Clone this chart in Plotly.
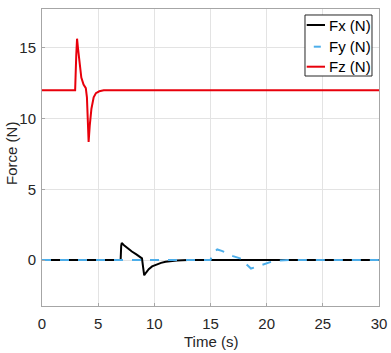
import plotly.graph_objects as go

# Fx (N)
fx_t = [0, 7.0, 7.05, 7.1, 7.3, 7.6, 8.0, 8.4, 8.75, 8.9, 9.0, 9.1, 9.25, 9.5, 9.8, 10.2, 10.6, 11.0, 11.5, 12.0, 13.0, 30]
fx_v = [0, 0, 1.0, 1.2, 1.05, 0.85, 0.6, 0.4, 0.22, 0.12, -0.5, -1.08, -0.9, -0.65, -0.45, -0.3, -0.2, -0.12, -0.07, -0.04, 0, 0]

# Fy (N)
fy_t = [0, 15.0, 15.2, 15.6, 16.0, 16.5, 17.0, 17.5, 18.0, 18.2, 18.6, 19.0, 19.5, 20.0, 20.5, 21.0, 22.0, 30]
fy_v = [0, 0, 0.5, 0.75, 0.65, 0.45, 0.28, 0.15, 0.03, -0.3, -0.6, -0.5, -0.35, -0.22, -0.1, -0.04, 0, 0]

# Fz (N)
fz_t = [0, 2.95, 3.05, 3.12, 3.2, 3.35, 3.5, 3.7, 3.9, 4.0, 4.1, 4.15, 4.25, 4.4, 4.6, 4.8, 5.1, 5.5, 30]
fz_v = [12, 12, 14.5, 15.65, 15.0, 13.7, 12.9, 12.4, 12.15, 11.5, 8.6, 8.35, 9.5, 10.7, 11.5, 11.8, 11.93, 12, 12]

series_names = ["Fx (N)", "Fy (N)", "Fz (N)"]
x_ticks = [0, 5, 10, 15, 20, 25, 30]
y_ticks = [0, 5, 10, 15]
x_title = "Time (s)"
y_title = "Force (N)"

FONT = "Liberation Sans, Arial, sans-serif"
TXT = "#262626"
COLORS = ["black", "#4DAEEA", "#E8000B"]

fig = go.Figure()
fig.add_trace(go.Scatter(x=fx_t, y=fx_v, mode="lines", name=series_names[0],
                         line=dict(color=COLORS[0], width=2)))
fig.add_trace(go.Scatter(x=fy_t, y=fy_v, mode="lines", name=series_names[1],
                         line=dict(color=COLORS[1], width=2, dash="dash")))
fig.add_trace(go.Scatter(x=fz_t, y=fz_v, mode="lines", name=series_names[2],
                         line=dict(color=COLORS[2], width=2)))

axis_common = dict(
    showline=True, mirror=True, linecolor="#A6A6A6", linewidth=1,
    showgrid=True, gridcolor="#E3E3E3", gridwidth=1, zeroline=False,
    ticks="inside", ticklen=3, tickcolor="#A6A6A6", automargin=False,
    tickfont=dict(family=FONT, size=15, color=TXT),
)

fig.update_xaxes(range=[0, 30], tickvals=x_ticks, ticklabelstandoff=4, **axis_common)
fig.update_yaxes(range=[-3.25, 17.75], tickvals=y_ticks, ticklabelstandoff=2, **axis_common)

fig.add_annotation(text=x_title, xref="paper", yref="paper", x=0.5, y=-0.121,
                   xanchor="center", yanchor="middle", showarrow=False,
                   font=dict(family=FONT, size=15, color=TXT))
fig.add_annotation(text=y_title, xref="paper", yref="paper", x=-0.089, y=0.512,
                   xanchor="center", yanchor="middle", showarrow=False, textangle=-90,
                   font=dict(family=FONT, size=15, color=TXT))

# Legend box drawn in MATLAB style (short line samples)
fig.add_shape(type="rect", xref="paper", yref="paper", x0=0.7804, x1=0.9792, y0=0.7744, y1=0.9798,
              fillcolor="white", line=dict(color="#262626", width=1), layer="above")
row_y = [0.9461, 0.8731, 0.8057]
seg = [(0.7855, 0.8398), (0.8065, 0.8273), (0.7855, 0.8398)]
for name, col, yy, (sx0, sx1) in zip(series_names, COLORS, row_y, seg):
    fig.add_shape(type="line", xref="paper", yref="paper", x0=sx0, x1=sx1, y0=yy, y1=yy,
                  line=dict(color=col, width=2), layer="above")
    fig.add_annotation(text=name, xref="paper", yref="paper", x=0.8457, y=yy,
                       xanchor="left", yanchor="middle", showarrow=False,
                       font=dict(family=FONT, size=15, color="black"))

fig.update_layout(
    width=391, height=353,
    margin=dict(l=42, r=12, t=9, b=47),
    paper_bgcolor="white", plot_bgcolor="white",
    font=dict(family=FONT, size=15, color=TXT),
    showlegend=False,
)

fig.write_html("out.html", config={"displayModeBar": False},
               post_script="document.body.style.margin='0';")
